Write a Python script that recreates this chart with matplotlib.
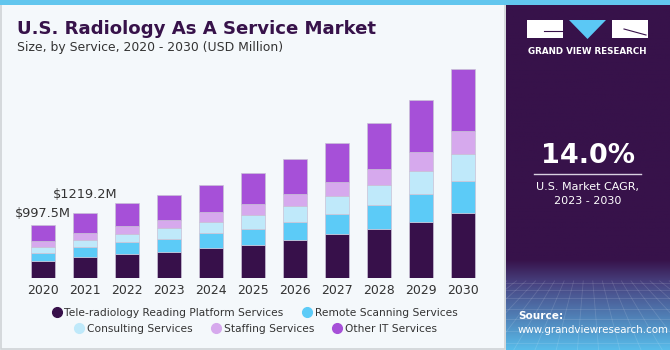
import numpy as np
import matplotlib
matplotlib.use("Agg")
import matplotlib.pyplot as plt
from matplotlib.patches import Rectangle, Polygon
from matplotlib.lines import Line2D

# data (USD Million)
years = ["2020", "2021", "2022", "2023", "2024", "2025", "2026", "2027", "2028", "2029", "2030"]
tele = [325, 395, 451, 500, 564, 626, 714, 827, 933, 1053, 1228]
remote = [145, 188, 226, 233, 282, 307, 345, 376, 440, 526, 607]
consulting = [124, 143, 162, 207, 213, 263, 295, 344, 382, 432, 508]
staffing = [113, 132, 150, 156, 188, 201, 237, 258, 306, 357, 421]
other = [290.5, 361, 421, 464, 502, 589, 652, 739, 859, 978, 1166]
series_names = ["Tele-radiology Reading Platform Services", "Remote Scanning Services",
                "Consulting Services", "Staffing Services", "Other IT Services"]
colors = ["#37104a", "#5ccbf7", "#bfe9fa", "#d6a9ed", "#a650d8"]
labels = {0: "$997.5M", 1: "$1219.2M"}

W, H = 670, 350
fig = plt.figure(figsize=(W / 100, H / 100), dpi=100)
fig.patch.set_facecolor("#f4f8fb")

def fx(px):
    return px / W

def fy(py):
    return 1 - py / H

# frame + top stripe
fig.add_artist(Rectangle((fx(0.5), 0.003), fx(505), 0.994, transform=fig.transFigure,
                         facecolor="none", edgecolor="#cfd3d6", lw=1.2))
fig.add_artist(Rectangle((0, fy(4.5)), 1, 4.5 / H, transform=fig.transFigure,
                         facecolor="#62c6ee", edgecolor="none", zorder=5))

# right panel, dark with a blue glow at the bottom
pan = fig.add_axes([fx(506), 0, fx(164), fy(4.5)])
pan.set_axis_off()
c_top = np.array([0x37, 0x12, 0x4a]) / 255
c_mid = np.array([0x48, 0x44, 0x82]) / 255
c_bot = np.array([0x58, 0xbc, 0xea]) / 255
rows = np.linspace(0, 1, 400)  # 0 = top, 1 = bottom
img = np.zeros((400, 1, 3))
for i, t in enumerate(rows):
    if t < 0.74:
        img[i, 0] = c_top
    elif t < 0.81:
        k = (t - 0.74) / 0.07
        img[i, 0] = c_top * (1 - k) + c_mid * k
    else:
        k = (t - 0.81) / 0.19
        img[i, 0] = c_mid * (1 - k) + c_bot * k
pan.imshow(img, aspect="auto", extent=[0, 1, 0, 1], origin="upper")
pan.set_xlim(0, 1)
pan.set_ylim(0, 1)
# faint grid in the glow
for xv in np.linspace(-0.6, 1.6, 18):
    pan.plot([0.5 + (xv - 0.5) * 0.45, xv], [0.2, 0.0], color="white", alpha=0.13, lw=0.6)
for yv in [0.02, 0.055, 0.09, 0.12, 0.15, 0.175, 0.195]:
    pan.plot([0, 1], [yv, yv], color="white", alpha=0.13, lw=0.6)

# logo
fig.add_artist(Rectangle((fx(527), fy(38)), fx(36), 18 / H, transform=fig.transFigure,
                         facecolor="white", edgecolor="none"))
fig.add_artist(Polygon([[fx(569), fy(20)], [fx(606), fy(20)], [fx(587.5), fy(39)]],
                       transform=fig.transFigure, facecolor="#5bc8f5", edgecolor="none"))
fig.add_artist(Rectangle((fx(612), fy(38)), fx(36), 18 / H, transform=fig.transFigure,
                         facecolor="white", edgecolor="none"))
fig.add_artist(Line2D([fx(544), fx(563)], [fy(31), fy(31)], transform=fig.transFigure,
                      color="#37124a", lw=0.8))
fig.add_artist(Line2D([fx(624), fx(646)], [fy(29), fy(35)], transform=fig.transFigure,
                      color="#37124a", lw=0.8))
fig.text(fx(587.5), fy(51), "GRAND VIEW RESEARCH", color="white", fontsize=6.3,
         fontweight="bold", ha="center", va="center")

fig.text(fx(587.5), fy(156), "14.0%", color="white", fontsize=19.5, fontweight="bold",
         ha="center", va="center")
fig.add_artist(Line2D([fx(534), fx(641)], [fy(173.5), fy(173.5)], transform=fig.transFigure,
                      color="#d8d0e0", lw=1))
fig.text(fx(587.5), fy(187), "U.S. Market CAGR,", color="white", fontsize=8,
         ha="center", va="center")
fig.text(fx(587.5), fy(201), "2023 - 2030", color="white", fontsize=8,
         ha="center", va="center")
fig.text(fx(518), fy(316), "Source:", color="white", fontsize=7.6, fontweight="bold",
         ha="left", va="center")
fig.text(fx(518), fy(330), "www.grandviewresearch.com", color="white", fontsize=7.4,
         ha="left", va="center")

# titles
fig.text(fx(17), fy(29), "U.S. Radiology As A Service Market", color="#37124a",
         fontsize=13.1, fontweight="heavy", ha="left", va="center")
fig.text(fx(17), fy(48), "Size, by Service, 2020 - 2030 (USD Million)", color="#333333",
         fontsize=8.9, ha="left", va="center")

# bar axes: centers at 43 + 42*i px, baseline at 278.3 px
mpp = 18.8  # USD Million per pixel
ax_l, ax_r = 10, 496
ax_bot, ax_top = 278.3, 60
ax = fig.add_axes([fx(ax_l), fy(ax_bot), fx(ax_r - ax_l), (ax_bot - ax_top) / H])
ax.set_facecolor("none")
a = (ax_l - 43) / 42
ax.set_xlim(a, a + (ax_r - ax_l) / 42)
ax.set_ylim(0, (ax_bot - ax_top) * mpp)
for s in ax.spines.values():
    s.set_visible(False)
ax.set_yticks([])
x = np.arange(len(years))
ax.set_xticks(x)
ax.set_xticklabels(years, fontsize=9, color="#333333")
ax.tick_params(axis="x", length=0, pad=4)

bottom = np.zeros(len(years))
for vals, col, name in zip([tele, remote, consulting, staffing, other], colors, series_names):
    ax.bar(x, vals, bottom=bottom, width=0.58, color=col, edgecolor="#c9c2d6",
           linewidth=0.5, label=name)
    bottom += np.array(vals)

for i, txt in labels.items():
    ax.annotate(txt, (x[i], bottom[i]), xytext=(0, 3.5 if i == 0 else 9),
                textcoords="offset points", ha="center", va="bottom", fontsize=9.3,
                color="#333333")

# legend in two centred rows
mk = [Line2D([], [], marker="o", ls="", color=c, markersize=7) for c in colors]
fig.legend(mk[:2], series_names[:2], loc="center", bbox_to_anchor=(fx(254), fy(313)),
           ncol=2, frameon=False, fontsize=7.7, handletextpad=0.1, columnspacing=1.6,
           handlelength=1.2)
fig.legend(mk[2:], series_names[2:], loc="center", bbox_to_anchor=(fx(255), fy(329)),
           ncol=3, frameon=False, fontsize=7.7, handletextpad=0.1, columnspacing=1.6,
           handlelength=1.2)
for lg in fig.legends:
    for t in lg.get_texts():
        t.set_color("#333333")

fig.savefig("out.png", dpi=100, facecolor=fig.get_facecolor())
